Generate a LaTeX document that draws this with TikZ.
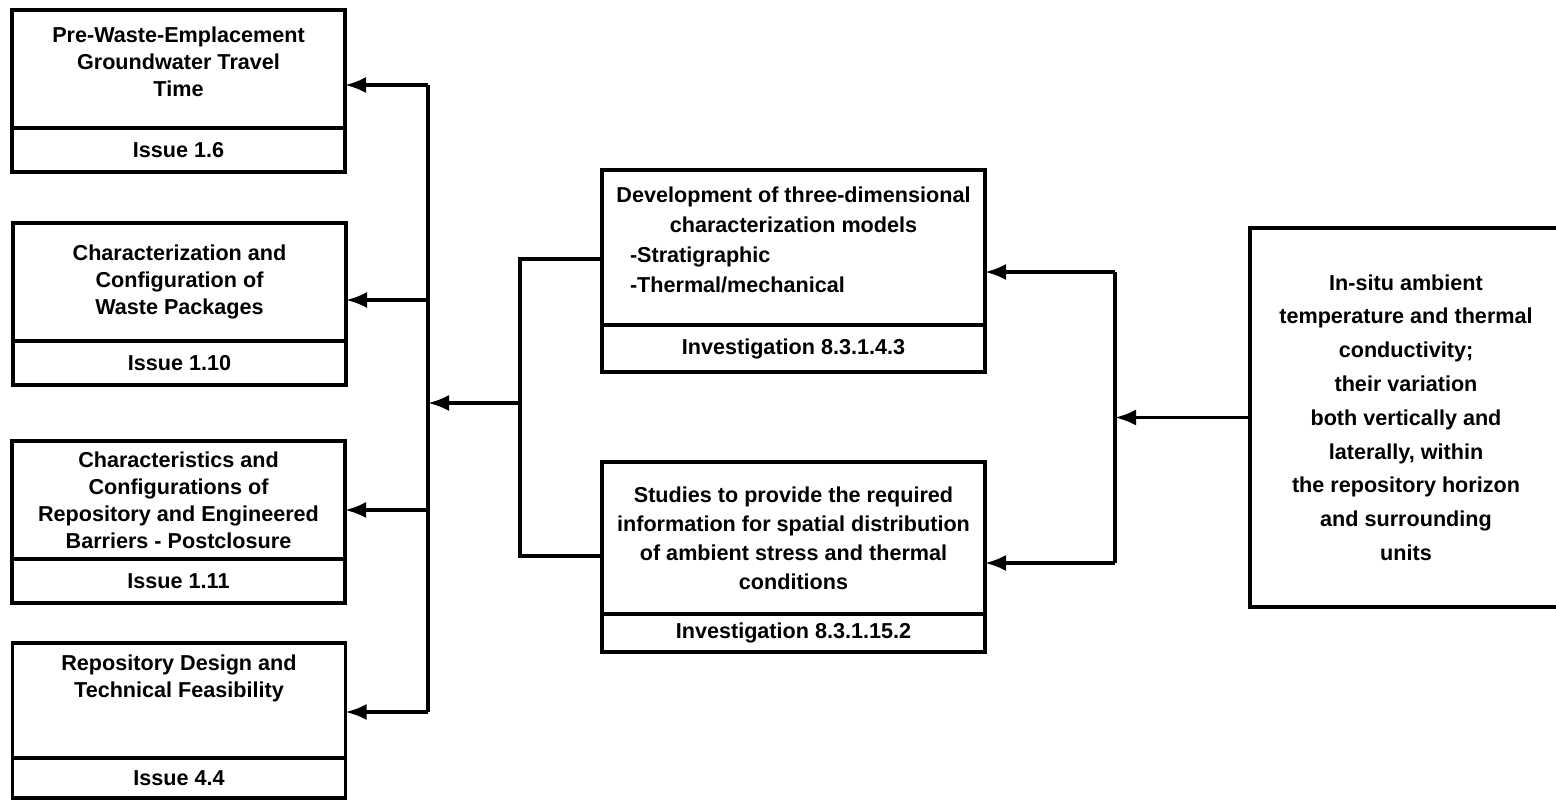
\documentclass[tikz,border=0pt]{standalone}
\usepackage{fontspec}
\setmainfont{Liberation Sans}
\usetikzlibrary{arrows.meta}
\tikzset{
  box/.style={draw, line width=1.7pt, outer sep=0pt, inner sep=2pt, align=center,
    font=\bfseries\fontsize{10.8}{13.5}\selectfont},
  issuebox/.style={box, minimum width=166.5pt, minimum height=59pt},
  issuetag/.style={box, minimum width=166.5pt, minimum height=22pt, anchor=north},
  invbox/.style={box, minimum width=191.5pt},
  arr/.style={-{Latex[length=10.5pt,width=8pt]}},
}
\begin{document}
\begin{tikzpicture}[x=0.5pt, y=-0.5pt, line width=1.6pt]
    \useasboundingbox (0,0) rectangle (1556,800);
    %% Draw the issue boxes
    \node[issuebox] (iss16) at (178.5,69) {Pre-Waste-Emplacement\\Groundwater Travel\\Time\rule[-7pt]{0pt}{7pt}};
    \node[issuetag] (iss16tag) at (iss16.south) {Issue 1.6};
    \node[issuebox] (iss110) at (179.5,282) {Characterization and\\Configuration of\\Waste Packages};
    \node[issuetag] (iss110tag) at (iss110.south) {Issue 1.10};
    \node[issuebox] (iss111) at (178.5,500) {Characteristics and\\Configurations of\\Repository and Engineered\\Barriers - Postclosure};
    \node[issuetag] (iss111tag) at (iss111.south) {Issue 1.11};
    \node[issuebox, minimum height=57.5pt] (iss44) at (179,700.5) {Repository Design and\\Technical Feasibility\rule[-24pt]{0pt}{24pt}};
    \node[issuetag, minimum height=20pt] (iss44tag) at (iss44.south) {Issue 4.4};
    %% Draw the investigation boxes
    \node[invbox, minimum height=77.5pt, font=\bfseries\fontsize{10.8}{15}\selectfont] (devmod) at (793.5,247.5)
      {Development of three-dimensional\\characterization models\\\makebox[163.5pt][l]{-Stratigraphic}\\\makebox[163.5pt][l]{-Thermal/mechanical}\rule[-8pt]{0pt}{8pt}};
    \node[invbox, minimum height=23.5pt, anchor=north] (devinv) at (devmod.south) {Investigation 8.3.1.4.3};
    \node[invbox, minimum height=76pt, font=\bfseries\fontsize{10.8}{14.5}\selectfont] (studies) at (793.5,538)
      {Studies to provide the required\\information for spatial distribution\\of ambient stress and thermal\\conditions};
    \node[invbox, minimum height=19pt, anchor=north] (studinv) at (studies.south) {Investigation 8.3.1.15.2};
    %% Draw the parameter box
    \node[box, minimum width=156pt, minimum height=189.5pt, font=\bfseries\fontsize{10.8}{16.9}\selectfont] (insitu) at (1406,417.5)
      {In-situ ambient\\temperature and thermal\\conductivity;\\their variation\\both vertically and\\laterally, within\\the repository horizon\\and surrounding\\units};
    %% Draw the bus lines
    \coordinate (l1) at (428,85);
    \coordinate (l2) at (428,300);
    \coordinate (l3) at (428,510);
    \coordinate (l4) at (428,712);
    \coordinate (lmid) at (428,403);
    \coordinate (mtop) at (520,259);
    \coordinate (mmid) at (520,403);
    \coordinate (mbot) at (520,556);
    \coordinate (rtop) at (1115,272);
    \coordinate (rbot) at (1115,563);
    \draw (l1) -- (l4);
    \draw (devmod.west |- mtop) -- (mtop) -- (mbot) -- (studies.west |- mbot);
    \draw (rtop) -- (rbot);
    %% Draw the edges
    \begin{scope}[every path/.style={arr}]
      \draw (l1) -- (l1 -| iss16.east);
      \draw (l2) -- (l2 -| iss110.east);
      \draw (l3) -- (l3 -| iss111.east);
      \draw (l4) -- (l4 -| iss44.east);
      \draw (mmid) -- (lmid);
      \draw (rtop) -- (rtop -| devmod.east);
      \draw (rbot) -- (rbot -| studies.east);
      \draw (insitu.west) -- (insitu.west -| rtop);
    \end{scope}
\end{tikzpicture}
\end{document}
